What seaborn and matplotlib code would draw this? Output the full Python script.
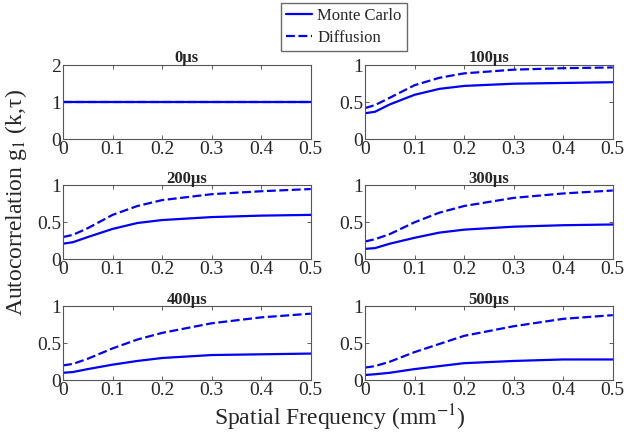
import numpy as np
import pandas as pd
import matplotlib
matplotlib.use("Agg")
import matplotlib.pyplot as plt
import seaborn as sns

freq = [0.0, 0.02, 0.05, 0.1, 0.15, 0.2, 0.3, 0.4, 0.5]
titles = ["0μs", "100μs", "200μs", "300μs", "400μs", "500μs"]
mc_0 = [1, 1, 1, 1, 1, 1, 1, 1, 1]
df_0 = [1, 1, 1, 1, 1, 1, 1, 1, 1]
mc_100 = [0.35, 0.37, 0.47, 0.60, 0.68, 0.72, 0.75, 0.76, 0.77]
df_100 = [0.42, 0.46, 0.56, 0.73, 0.83, 0.89, 0.94, 0.96, 0.97]
mc_200 = [0.21, 0.23, 0.30, 0.41, 0.49, 0.53, 0.57, 0.59, 0.60]
df_200 = [0.30, 0.33, 0.42, 0.60, 0.72, 0.80, 0.88, 0.92, 0.95]
mc_300 = [0.14, 0.15, 0.21, 0.29, 0.36, 0.40, 0.44, 0.46, 0.47]
df_300 = [0.24, 0.27, 0.34, 0.50, 0.63, 0.72, 0.83, 0.89, 0.93]
mc_400 = [0.10, 0.11, 0.15, 0.21, 0.26, 0.30, 0.34, 0.35, 0.36]
df_400 = [0.20, 0.22, 0.29, 0.43, 0.55, 0.64, 0.77, 0.85, 0.90]
mc_500 = [0.07, 0.08, 0.10, 0.15, 0.19, 0.23, 0.26, 0.28, 0.28]
df_500 = [0.17, 0.19, 0.25, 0.38, 0.49, 0.60, 0.73, 0.83, 0.88]

mc_all = [mc_0, mc_100, mc_200, mc_300, mc_400, mc_500]
df_all = [df_0, df_100, df_200, df_300, df_400, df_500]

sns.set_style("ticks")
plt.rcParams['font.family'] = ['Liberation Serif', 'DejaVu Serif']
plt.rcParams['mathtext.fontset'] = 'stix'
plt.rcParams['xtick.direction'] = 'in'
plt.rcParams['ytick.direction'] = 'in'

fig = plt.figure(figsize=(6.24, 4.32), dpi=100)
lefts = [0.101, 0.585]
bottoms = [0.678, 0.400, 0.120]
w, h = 0.397, 0.171

blue = '#0000f5'
handles = None
for i in range(6):
    r, c = divmod(i, 2)
    ax = fig.add_axes([lefts[c], bottoms[r], w, h])
    d = pd.DataFrame({
        'freq': freq * 2,
        'g': list(mc_all[i]) + list(df_all[i]),
        'model': ['Monte Carlo'] * len(freq) + ['Diffusion'] * len(freq),
    })
    sns.lineplot(data=d, x='freq', y='g', hue='model', style='model',
                 palette=[blue, blue], dashes=[(None, None), (4, 1.6)],
                 linewidth=1.6, ax=ax, legend=(i == 0))
    if i == 0:
        handles, labels = ax.get_legend_handles_labels()
        ax.get_legend().remove()
    ax.set_xlim(0, 0.5)
    ax.set_xticks([0, 0.1, 0.2, 0.3, 0.4, 0.5])
    ax.set_xticklabels(['0', '0.1', '0.2', '0.3', '0.4', '0.5'])
    if i == 0:
        ax.set_ylim(0, 2)
        ax.set_yticks([0, 1, 2])
        ax.set_yticklabels(['0', '1', '2'])
    else:
        ax.set_ylim(0, 1)
        ax.set_yticks([0, 0.5, 1])
        ax.set_yticklabels(['0', '0.5', '1'])
    ax.set_xlabel('')
    ax.set_ylabel('')
    ax.tick_params(labelsize=14, top=True, right=True, length=3, width=0.6,
                   color='#444444', pad=1.5)
    for s in ax.spines.values():
        s.set_color('#555555')
        s.set_linewidth(0.8)
    ax.set_title(titles[i], fontsize=12, fontweight='bold', pad=2)

fig.legend(handles, labels, loc='upper center', bbox_to_anchor=(0.551, 0.993),
           fontsize=12, frameon=True, fancybox=False, edgecolor='#444444',
           handlelength=1.6, handletextpad=0.3, borderpad=0.3, labelspacing=0.35,
           borderaxespad=0)

fig.text(0.025, 0.53, 'Autocorrelation g$_1$ (k,τ)', rotation=90, fontsize=17,
         ha='center', va='center')
fig.text(0.545, 0.033, 'Spatial Frequency (mm$^{-1}$)', fontsize=17,
         ha='center', va='center')

fig.savefig('out.png', dpi=100)
